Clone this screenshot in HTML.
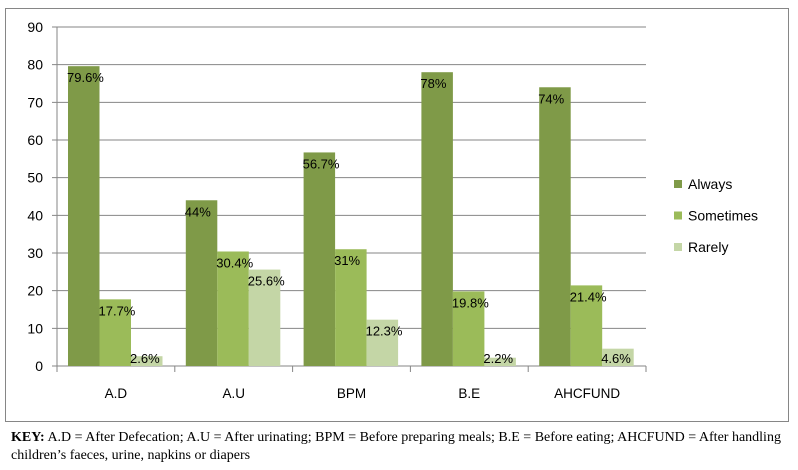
<!DOCTYPE html>
<html><head><meta charset="utf-8"><style>
body{margin:0;background:#fff;width:798px;height:470px;overflow:hidden;font-family:"Liberation Sans",sans-serif}
.key{position:absolute;left:11px;top:429px;font:14px "Liberation Serif",serif;color:#000;line-height:18px;width:782px}
</style></head><body>
<svg width="798" height="430" style="position:absolute;left:0;top:0" xmlns="http://www.w3.org/2000/svg">
<rect x="5.5" y="8.5" width="783" height="413" fill="#fff" stroke="#868686"/>
<g id="g"></g>
</svg>
<div class="key"><b>KEY:</b> A.D = After Defecation; A.U = After urinating; BPM = Before preparing meals; B.E = Before eating; AHCFUND = After handling children’s faeces, urine, napkins or diapers</div>
<script>
const categories=["A.D","A.U","BPM","B.E","AHCFUND"];
const always=[79.6,44,56.7,78,74];
const sometimes=[17.7,30.4,31,19.8,21.4];
const rarely=[2.6,25.6,12.3,2.2,4.6];
const alwaysLabels=["79.6%","44%","56.7%","78%","74%"];
const sometimesLabels=["17.7%","30.4%","31%","19.8%","21.4%"];
const rarelyLabels=["2.6%","25.6%","12.3%","2.2%","4.6%"];
const yTicks=[0,10,20,30,40,50,60,70,80,90];
const seriesNames=["Always","Sometimes","Rarely"];
const NS="http://www.w3.org/2000/svg";
const g=document.getElementById('g');
const x0=57,x1=646,yb=366,yt=27,ymax=90;
const cw=(x1-x0)/categories.length,bw=31.5,off=11;
const y=v=>yb-(v/ymax)*(yb-yt);
function mk(t,a){const e=document.createElementNS(NS,t);for(const k in a)e.setAttribute(k,a[k]);g.appendChild(e);return e;}
yTicks.forEach(t=>{
 const l=mk('line',{x1:x0-5,x2:x1,y1:y(t),y2:y(t),stroke:'#868686'});
 
 
 const tx=mk('text',{x:x0-14,y:y(t)+5,'text-anchor':'end','font-size':14,fill:'#000'});
 tx.textContent=t;
 
 
});
const ax=mk('line',{x1:x0,x2:x0,y1:yt,y2:yb,stroke:'#868686'});


for(let i=0;i<=categories.length;i++){
 const t=mk('line',{x1:x0+i*cw,x2:x0+i*cw,y1:yb,y2:yb+6,stroke:'#868686'});
 
 
}
const series=[always,sometimes,rarely],labels=[alwaysLabels,sometimesLabels,rarelyLabels];
const colors=['#7F9A48','#9BBB59','#C4D6A6'];
categories.forEach((c,i)=>{
 const ct=mk('text',{x:x0+i*cw+cw/2,y:yb+32,'text-anchor':'middle','font-size':13.5,fill:'#000'});
 ct.textContent=c;
 
 
 series.forEach((s,j)=>{
  const bx=x0+i*cw+off+j*bw;
  const r=mk('rect',{x:bx,y:y(s[i]),width:bw,height:yb-y(s[i]),fill:colors[j]});
  
  
  const lt=mk('text',{x:bx-1,y:Math.min(y(s[i])+16,yb-3),'font-size':13,fill:'#000'});
  lt.textContent=labels[j][i];
  
  
 });
});
seriesNames.forEach((n,j)=>{
 const ly=184+j*31.5;
 const sq=mk('rect',{x:674,y:ly-4,width:8,height:8,fill:colors[j]});
 
 
 const lt=mk('text',{x:688,y:ly+5,'font-size':14,fill:'#000'});
 lt.textContent=n;
 
 
});
</script>
</body></html>
